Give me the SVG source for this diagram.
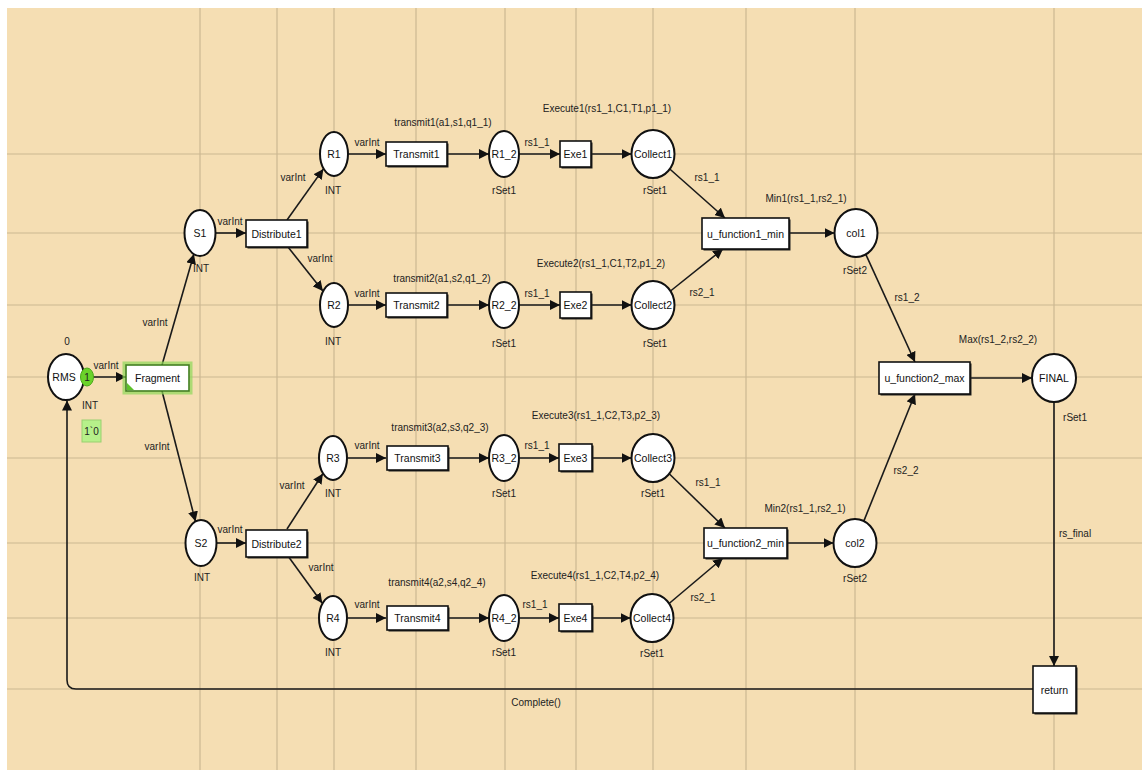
<svg xmlns="http://www.w3.org/2000/svg" width="1142" height="770" viewBox="0 0 1142 770">
<style>
text{font-family:"Liberation Sans",Arial,sans-serif;font-size:10px;fill:#222;text-anchor:middle;dominant-baseline:central}
.nm{font-size:10.5px;fill:#111}
.grid line{stroke:#cbb892;stroke-width:1.2}
.pl{fill:#fff;stroke:#111;stroke-width:2}
.tr{fill:#fff;stroke:#111;stroke-width:1.6}
.sh{fill:#222}
.arc{fill:none;stroke:#1a1a1a;stroke-width:1.6;marker-end:url(#ah)}
</style>
<defs>
<marker id="ah" markerUnits="userSpaceOnUse" markerWidth="10" markerHeight="10" refX="10" refY="5" orient="auto" viewBox="0 0 10 10">
<path d="M0,0 L10,5 L0,10 z" fill="#111"/>
</marker>
</defs>
<rect width="1142" height="770" fill="#fff"/>
<rect x="7" y="8" width="1135" height="762" fill="#f5deb3"/>
<g class="grid">
<line x1="200" y1="8" x2="200" y2="770"/><line x1="277" y1="8" x2="277" y2="770"/><line x1="334" y1="8" x2="334" y2="770"/><line x1="416" y1="8" x2="416" y2="770"/><line x1="505" y1="8" x2="505" y2="770"/><line x1="576" y1="8" x2="576" y2="770"/><line x1="653" y1="8" x2="653" y2="770"/><line x1="746" y1="8" x2="746" y2="770"/><line x1="855" y1="8" x2="855" y2="770"/><line x1="1054" y1="8" x2="1054" y2="770"/>
<line x1="7" y1="154" x2="1142" y2="154"/><line x1="7" y1="233" x2="1142" y2="233"/><line x1="7" y1="305" x2="1142" y2="305"/><line x1="7" y1="377" x2="1142" y2="377"/><line x1="7" y1="458" x2="1142" y2="458"/><line x1="7" y1="543" x2="1142" y2="543"/><line x1="7" y1="618" x2="1142" y2="618"/><line x1="7" y1="689" x2="1142" y2="689"/>
</g>
<g id="connectors">
<path class="arc" d="M92,377 H126"/>
<path class="arc" d="M162,365 L193.9,254"/>
<path class="arc" d="M162,391 L195.5,521.5"/>
<path class="arc" d="M215.5,233 H246"/>
<path class="arc" d="M215.5,543 H246"/>
<path class="arc" d="M287,220 L323.4,168.9"/>
<path class="arc" d="M288,247 L322.9,291"/>
<path class="arc" d="M287,529 L322.8,473.7"/>
<path class="arc" d="M288,556 L322.3,603.2"/>
<path class="arc" d="M348,154 H386"/>
<path class="arc" d="M348,305 H386"/>
<path class="arc" d="M348,458 H386"/>
<path class="arc" d="M348,618 H386"/>
<path class="arc" d="M447,154 H489"/>
<path class="arc" d="M447,305 H489"/>
<path class="arc" d="M447,458 H489"/>
<path class="arc" d="M447,618 H489"/>
<path class="arc" d="M519,154 H560"/>
<path class="arc" d="M519,305 H560"/>
<path class="arc" d="M519,458 H559"/>
<path class="arc" d="M519,618 H559"/>
<path class="arc" d="M591,154 H631.5"/>
<path class="arc" d="M591,305 H631.5"/>
<path class="arc" d="M592,458 H631.5"/>
<path class="arc" d="M592,618 H630.5"/>
<path class="arc" d="M669.8,169 L725,218"/>
<path class="arc" d="M670.5,291 L723,249"/>
<path class="arc" d="M669.2,473.8 L725,528"/>
<path class="arc" d="M669.1,603.5 L723,558"/>
<path class="arc" d="M789,233 H834.5"/>
<path class="arc" d="M787,543 H833.5"/>
<path class="arc" d="M865.8,254.4 L915,362"/>
<path class="arc" d="M863.8,521.1 L915,394"/>
<path class="arc" d="M970,378 H1032"/>
<path class="arc" d="M1054,402 V666"/>
<path class="arc" d="M1033,689 H76 Q67,689 67,680 V400.5"/>
</g>
<g id="RMS">
<ellipse class="pl" cx="66" cy="377" rx="18" ry="23"/>
<text class="nm" x="64" y="377">RMS</text>
<text x="67" y="341">0</text>
<text x="90" y="405">INT</text>
<ellipse cx="87" cy="377" rx="6.5" ry="9" fill="#6ad32a" stroke="#4aa81a" stroke-width="1"/>
<text x="87" y="377">1</text>
<rect x="82" y="420" width="19" height="22" fill="#b6f08a" stroke="#9ad070" stroke-width="1"/>
<text x="91.5" y="431">1`0</text>
</g>
<g id="Fragment">
<rect x="124" y="363" width="67" height="30" fill="none" stroke="#8fd85a" stroke-width="3" opacity="0.7"/>
<rect x="126" y="365" width="63" height="26" fill="#fff" stroke="#3f7f1f" stroke-width="1.6"/>
<path d="M127,390 L127,383 L134,390 z" fill="#5cc02a"/>
<text class="nm" x="157.5" y="378">Fragment</text>
<text x="155" y="322">varInt</text>
<text x="157" y="446">varInt</text>
<text x="106" y="365">varInt</text>
</g>
<g id="S1">
<ellipse class="pl" cx="200" cy="233" rx="15.5" ry="23"/>
<text class="nm" x="200" y="233">S1</text>
<text x="201" y="268">INT</text>
<text x="230" y="221">varInt</text>
</g>
<g id="S2">
<ellipse class="pl" cx="201" cy="543" rx="15.5" ry="23"/>
<text class="nm" x="201" y="543">S2</text>
<text x="202" y="577">INT</text>
<text x="230" y="529">varInt</text>
</g>
<g id="Distribute1">
<rect class="sh" x="247.5" y="221.5" width="61" height="27"/>
<rect class="tr" x="246" y="220" width="61" height="27"/>
<text class="nm" x="276.5" y="233.5">Distribute1</text>
<text x="293" y="177">varInt</text>
<text x="320" y="258">varInt</text>
</g>
<g id="Distribute2">
<rect class="sh" x="247.5" y="531.5" width="61" height="27"/>
<rect class="tr" x="246" y="530" width="61" height="27"/>
<text class="nm" x="276.5" y="543.5">Distribute2</text>
<text x="292" y="485">varInt</text>
<text x="321" y="567">varInt</text>
</g>
<g id="R1">
<ellipse class="pl" cx="334" cy="154" rx="14" ry="22"/>
<text class="nm" x="334" y="154">R1</text>
<text x="333" y="190">INT</text>
<text x="367" y="142">varInt</text>
</g>
<g id="R2">
<ellipse class="pl" cx="334" cy="305" rx="14" ry="22"/>
<text class="nm" x="334" y="305">R2</text>
<text x="333" y="341">INT</text>
<text x="367" y="293">varInt</text>
</g>
<g id="R3">
<ellipse class="pl" cx="333" cy="458" rx="14" ry="22"/>
<text class="nm" x="333" y="458">R3</text>
<text x="333" y="493">INT</text>
<text x="367" y="445">varInt</text>
</g>
<g id="R4">
<ellipse class="pl" cx="333" cy="618" rx="14" ry="22"/>
<text class="nm" x="333" y="618">R4</text>
<text x="333" y="652">INT</text>
<text x="367" y="604">varInt</text>
</g>
<g id="Transmit1">
<rect class="sh" x="387.5" y="143.5" width="61" height="24"/>
<rect class="tr" x="386" y="142" width="61" height="24"/>
<text class="nm" x="416.5" y="154">Transmit1</text>
<text x="443" y="122">transmit1(a1,s1,q1_1)</text>
</g>
<g id="Transmit2">
<rect class="sh" x="387.5" y="294.5" width="61" height="24"/>
<rect class="tr" x="386" y="293" width="61" height="24"/>
<text class="nm" x="416.5" y="305">Transmit2</text>
<text x="442" y="278">transmit2(a1,s2,q1_2)</text>
</g>
<g id="Transmit3">
<rect class="sh" x="388.5" y="447.5" width="61" height="24"/>
<rect class="tr" x="387" y="446" width="61" height="24"/>
<text class="nm" x="417.5" y="458">Transmit3</text>
<text x="440" y="427">transmit3(a2,s3,q2_3)</text>
</g>
<g id="Transmit4">
<rect class="sh" x="388.5" y="607.5" width="61" height="24"/>
<rect class="tr" x="387" y="606" width="61" height="24"/>
<text class="nm" x="417.5" y="618">Transmit4</text>
<text x="437" y="582">transmit4(a2,s4,q2_4)</text>
</g>
<g id="R1_2">
<ellipse class="pl" cx="504" cy="154" rx="15" ry="23"/>
<text class="nm" x="504" y="154">R1_2</text>
<text x="504" y="190">rSet1</text>
<text x="537" y="142">rs1_1</text>
</g>
<g id="R2_2">
<ellipse class="pl" cx="504" cy="305" rx="15" ry="23"/>
<text class="nm" x="504" y="305">R2_2</text>
<text x="504" y="343">rSet1</text>
<text x="537" y="293">rs1_1</text>
</g>
<g id="R3_2">
<ellipse class="pl" cx="504" cy="458" rx="15" ry="23"/>
<text class="nm" x="504" y="458">R3_2</text>
<text x="504" y="493">rSet1</text>
<text x="537" y="445">rs1_1</text>
</g>
<g id="R4_2">
<ellipse class="pl" cx="504" cy="618" rx="15" ry="23"/>
<text class="nm" x="504" y="618">R4_2</text>
<text x="504" y="652">rSet1</text>
<text x="535" y="604">rs1_1</text>
</g>
<g id="Exe1">
<rect class="sh" x="561.5" y="142.5" width="31" height="26"/>
<rect class="tr" x="560" y="141" width="31" height="26"/>
<text class="nm" x="575.5" y="154">Exe1</text>
<text x="607" y="108">Execute1(rs1_1,C1,T1,p1_1)</text>
</g>
<g id="Exe2">
<rect class="sh" x="561.5" y="293.5" width="31" height="26"/>
<rect class="tr" x="560" y="292" width="31" height="26"/>
<text class="nm" x="575.5" y="305">Exe2</text>
<text x="601" y="263">Execute2(rs1_1,C1,T2,p1_2)</text>
</g>
<g id="Exe3">
<rect class="sh" x="560.5" y="445.5" width="33" height="27"/>
<rect class="tr" x="559" y="444" width="33" height="27"/>
<text class="nm" x="575.5" y="458">Exe3</text>
<text x="596" y="415">Execute3(rs1_1,C2,T3,p2_3)</text>
</g>
<g id="Exe4">
<rect class="sh" x="560.5" y="605.5" width="33" height="27"/>
<rect class="tr" x="559" y="604" width="33" height="27"/>
<text class="nm" x="575.5" y="618">Exe4</text>
<text x="595" y="575">Execute4(rs1_1,C2,T4,p2_4)</text>
</g>
<g id="Collect1">
<ellipse class="pl" cx="653" cy="154" rx="21.5" ry="24"/>
<text class="nm" x="653" y="154">Collect1</text>
<text x="655" y="190">rSet1</text>
<text x="707" y="177">rs1_1</text>
</g>
<g id="Collect2">
<ellipse class="pl" cx="653" cy="305" rx="21.5" ry="24"/>
<text class="nm" x="653" y="305">Collect2</text>
<text x="655" y="343">rSet1</text>
<text x="702" y="292">rs2_1</text>
</g>
<g id="Collect3">
<ellipse class="pl" cx="653" cy="458" rx="21.5" ry="24"/>
<text class="nm" x="653" y="458">Collect3</text>
<text x="653" y="493">rSet1</text>
<text x="708" y="482">rs1_1</text>
</g>
<g id="Collect4">
<ellipse class="pl" cx="652" cy="618" rx="21.5" ry="24"/>
<text class="nm" x="652" y="618">Collect4</text>
<text x="652" y="653">rSet1</text>
<text x="703" y="597">rs2_1</text>
</g>
<g id="u_function1_min">
<rect class="sh" x="703.5" y="219.5" width="87" height="31"/>
<rect class="tr" x="702" y="218" width="87" height="31"/>
<text class="nm" x="745.5" y="233.5">u_function1_min</text>
<text x="806" y="198">Min1(rs1_1,rs2_1)</text>
</g>
<g id="u_function2_min">
<rect class="sh" x="705.5" y="529.5" width="83" height="30"/>
<rect class="tr" x="704" y="528" width="83" height="30"/>
<text class="nm" x="745.5" y="543">u_function2_min</text>
<text x="805" y="508">Min2(rs1_1,rs2_1)</text>
</g>
<g id="col1">
<ellipse class="pl" cx="856" cy="233" rx="21.5" ry="24"/>
<text class="nm" x="856" y="233">col1</text>
<text x="855" y="270">rSet2</text>
<text x="907" y="297">rs1_2</text>
</g>
<g id="col2">
<ellipse class="pl" cx="855" cy="543" rx="21.5" ry="24"/>
<text class="nm" x="855" y="543">col2</text>
<text x="855" y="578">rSet2</text>
<text x="906" y="470">rs2_2</text>
</g>
<g id="u_function2_max">
<rect class="sh" x="880.5" y="363.5" width="91" height="32"/>
<rect class="tr" x="879" y="362" width="91" height="32"/>
<text class="nm" x="924.5" y="378">u_function2_max</text>
<text x="998" y="339">Max(rs1_2,rs2_2)</text>
</g>
<g id="FINAL">
<ellipse class="pl" cx="1054" cy="378" rx="22" ry="24"/>
<text class="nm" x="1054" y="378">FINAL</text>
<text x="1075" y="417">rSet1</text>
<text x="1075" y="533">rs_final</text>
</g>
<g id="return">
<rect class="sh" x="1034.5" y="667.5" width="43" height="47"/>
<rect class="tr" x="1033" y="666" width="43" height="47"/>
<text class="nm" x="1054.5" y="689.5">return</text>
<text x="536" y="702">Complete()</text>
</g>
</svg>
